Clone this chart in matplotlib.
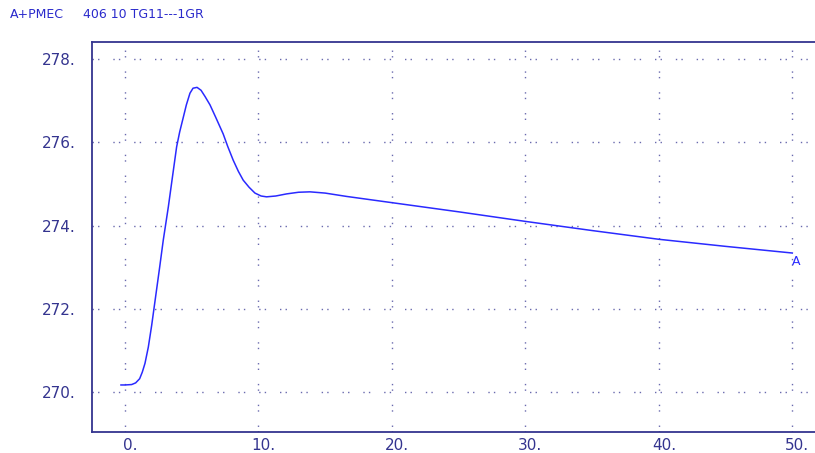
import matplotlib
matplotlib.use("Agg")
import matplotlib.pyplot as plt
from matplotlib.transforms import offset_copy

# data
time_s = [-0.3, 0.0, 0.5, 0.8, 1.1, 1.3, 1.5, 1.75, 2.0, 2.3, 2.6, 2.87, 3.25,
          3.55, 3.87, 4.1, 4.37, 4.6, 4.87, 5.1, 5.4, 5.7, 6.0, 6.37, 6.8,
          7.36, 7.7, 8.11, 8.5, 8.86, 9.3, 9.74, 10.2, 10.61, 11.3, 12.1,
          13.0, 13.86, 15.0, 16.6, 20, 25, 30, 35, 40, 45, 50]
pmec = [270.17, 270.17, 270.18, 270.22, 270.32, 270.48, 270.69, 271.08,
        271.6, 272.3, 273.0, 273.65, 274.45, 275.15, 275.89, 276.25, 276.6,
        276.9, 277.18, 277.3, 277.32, 277.25, 277.1, 276.9, 276.6, 276.2,
        275.9, 275.57, 275.3, 275.09, 274.92, 274.78, 274.71, 274.69, 274.71,
        274.76, 274.8, 274.81, 274.78, 274.7, 274.55, 274.33, 274.1, 273.88,
        273.67, 273.5, 273.34]
x_ticks = [0, 10, 20, 30, 40, 50]
x_labels = ["0.", "10.", "20.", "30.", "40.", "50."]
y_ticks = [270, 272, 274, 276, 278]
y_labels = ["270.", "272.", "274.", "276.", "278."]

navy = "#34348f"
fig = plt.figure(figsize=(8.15, 4.53), dpi=100)
ax = fig.add_axes([92/815, 21/453, (819-92)/815, (432-42)/453])
ax.set_xlim(-2.47, 52)
ax.set_ylim(269.04, 278.41)

ax.plot(time_s, pmec, color="#2a2aff", lw=1.1)
ax.text(49.95, pmec[-1] - 0.05, "A", color="#2a2aff", fontsize=9, va="top",
        ha="left", family="DejaVu Sans")

grid_kw = dict(color="#6a6aae", lw=1.0, linestyle=(0, (1, 3, 1, 10)), zorder=0)
for xv in x_ticks:
    ax.axvline(xv, **grid_kw)
for yv in y_ticks:
    ax.axhline(yv, **grid_kw)

ax.set_xticks(x_ticks)
ax.set_yticks(y_ticks)
ax.set_xticklabels(x_labels)
ax.set_yticklabels(y_labels)
ax.tick_params(length=0, colors=navy, labelsize=11, pad=12)
ax.tick_params(axis="x", pad=4)
for lab in ax.get_xticklabels() + ax.get_yticklabels():
    lab.set_family("DejaVu Sans")
for lab in ax.get_xticklabels():
    lab.set_transform(offset_copy(lab.get_transform(), fig=fig, x=5, units="dots"))

for s in ["left", "top", "bottom"]:
    ax.spines[s].set_color(navy)
    ax.spines[s].set_linewidth(1.3)
ax.spines["right"].set_visible(False)

fig.text(10/815, 1 - 15/453, "A+PMEC", color="#2a2acc", fontsize=9,
         va="center", ha="left", family="DejaVu Sans")
fig.text(83/815, 1 - 15/453, "406 10 TG11---1GR", color="#2a2acc", fontsize=9,
         va="center", ha="left", family="DejaVu Sans")

fig.savefig("out.png", dpi=100)
